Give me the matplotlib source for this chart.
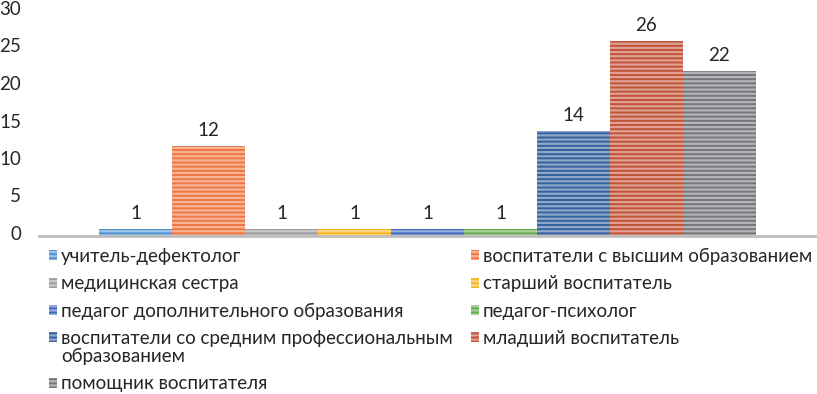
import matplotlib
matplotlib.use("Agg")
import matplotlib.pyplot as plt
from matplotlib.patches import Patch
import matplotlib.colors as mcolors
import matplotlib.transforms as mtrans

categories = [
    "учитель-дефектолог",
    "воспитатели с высшим образованием",
    "медицинская сестра",
    "старший воспитатель",
    "педагог дополнительного образования",
    "педагог-психолог",
    "воспитатели со средним профессиональным\nобразованием",
    "младший воспитатель",
    "помощник воспитателя",
]
values = [1, 12, 1, 1, 1, 1, 14, 26, 22]
colors = ["#5192D2", "#EE7642", "#9C9C9C", "#F8B722", "#416ABF",
          "#64AC4C", "#34619F", "#C25238", "#76767C"]
yticks = [0, 5, 10, 15, 20, 25, 30]

plt.rcParams['font.family'] = ['Lato', 'DejaVu Sans']
plt.rcParams['hatch.linewidth'] = 1.6

def lighten(c, f=0.45):
    r, g, b = mcolors.to_rgb(c)
    return (r + (1 - r) * f, g + (1 - g) * f, b + (1 - b) * f)

FS = 13.5
W, H = 817, 394
fig = plt.figure(figsize=(W / 100, H / 100), dpi=100)
ax = fig.add_axes([39 / W, 1 - 236 / H, (W - 39) / W, (236 - 11) / H])

xs = list(range(len(values)))
ax.bar(xs, values, width=1.0, color=colors,
       edgecolor=[lighten(c) for c in colors], linewidth=0,
       hatch='----', zorder=2)
for x, v in zip(xs, values):
    ax.annotate(str(v), (x, v), xytext=(0, 5), textcoords='offset points',
                ha='center', va='bottom', fontsize=FS, color='#262626')

ax.set_xlim(-1.322, 9.336)
ax.set_ylim(0, 30)
ax.set_yticks(yticks)
ax.set_yticklabels([str(t) for t in yticks], fontsize=FS, color='#262626')
ax.tick_params(axis='y', length=0, pad=13)
up = mtrans.ScaledTranslation(0, 3 / 100, fig.dpi_scale_trans)
for lab in ax.get_yticklabels():
    lab.set_transform(lab.get_transform() + up)
ax.set_xticks([])
for s in ['top', 'right', 'left']:
    ax.spines[s].set_visible(False)
ax.spines['bottom'].set_color('#BFBFBF')
ax.spines['bottom'].set_linewidth(2)

handles = [Patch(facecolor=c, edgecolor=lighten(c), linewidth=0, hatch='----')
           for c in colors]
order = [0, 2, 4, 6, 8, 1, 3, 5, 7]
leg = fig.legend([handles[i] for i in order], [categories[i] for i in order],
                 ncol=2, loc='upper left', bbox_to_anchor=(49 / W, 1 - 248 / H),
                 frameon=False, fontsize=FS, handlelength=0.45, handleheight=0.45,
                 handletextpad=0.2, labelspacing=0.55, columnspacing=0.95,
                 borderpad=0, borderaxespad=0)
for t in leg.get_texts():
    t.set_color('#262626')
    t.set_linespacing(1.05)
hm = leg.legend_handles[3]
hm.set_y(hm.get_y() + 8)

fig.savefig("out.png", dpi=100)
